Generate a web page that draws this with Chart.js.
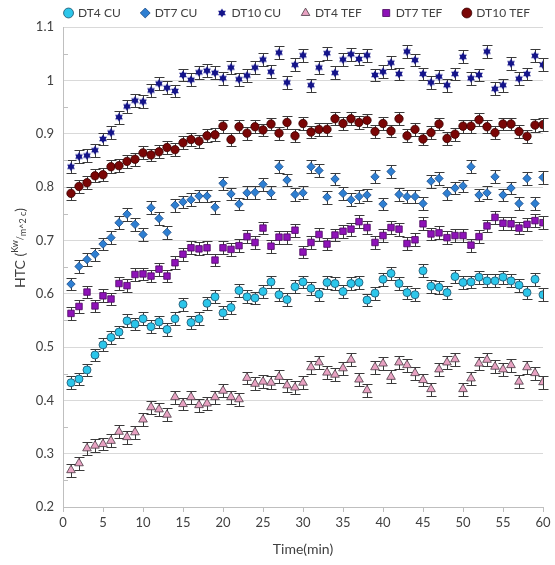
<!DOCTYPE html>
<html>
<head>
<meta charset="utf-8">
<script src="https://cdn.jsdelivr.net/npm/chart.js@4/dist/chart.umd.min.js"></script>
<style>
  html, body { margin: 0; padding: 0; background: #ffffff; }
  #wrap { position: relative; width: 555px; height: 565px; }
</style>
</head>
<body>
<div id="wrap"><canvas id="c" width="555" height="565"></canvas></div>
<script>
// ---- data ----
const TIME = [1,2,3,4,5,6,7,8,9,10,11,12,13,14,15,16,17,18,19,20,21,22,23,24,25,26,27,28,29,30,31,32,33,34,35,36,37,38,39,40,41,42,43,44,45,46,47,48,49,50,51,52,53,54,55,56,57,58,59,60];
const DT4_CU = [0.433,0.440,0.457,0.485,0.504,0.518,0.528,0.549,0.543,0.553,0.538,0.547,0.533,0.553,0.580,0.546,0.553,0.582,0.594,0.564,0.574,0.606,0.594,0.592,0.604,0.622,0.598,0.589,0.613,0.622,0.610,0.599,0.621,0.619,0.604,0.619,0.621,0.588,0.601,0.627,0.638,0.619,0.602,0.598,0.643,0.614,0.612,0.602,0.632,0.621,0.622,0.631,0.624,0.624,0.631,0.624,0.616,0.602,0.627,0.598];
const DT7_CU = [0.618,0.651,0.664,0.674,0.693,0.705,0.733,0.749,0.730,0.711,0.761,0.741,0.715,0.766,0.772,0.776,0.783,0.783,0.762,0.807,0.787,0.768,0.789,0.790,0.805,0.789,0.838,0.813,0.786,0.789,0.838,0.831,0.781,0.815,0.788,0.776,0.782,0.785,0.819,0.768,0.829,0.786,0.782,0.782,0.769,0.811,0.816,0.788,0.798,0.802,0.838,0.785,0.789,0.819,0.785,0.798,0.769,0.816,0.769,0.818];
const DT10_CU = [0.838,0.857,0.859,0.869,0.890,0.902,0.931,0.951,0.962,0.960,0.981,0.994,0.986,0.980,1.010,1.001,1.015,1.018,1.014,1.004,1.024,1.002,1.009,1.024,1.039,1.016,1.052,0.996,1.029,1.047,0.991,1.024,1.051,1.014,1.039,1.049,1.040,1.047,1.010,1.016,1.033,1.012,1.054,1.038,1.012,0.996,1.007,0.991,1.012,1.044,1.004,1.010,1.054,0.984,0.991,1.032,1.003,1.012,1.046,1.029];
const DT4_TEF = [0.269,0.282,0.310,0.315,0.318,0.324,0.341,0.331,0.340,0.364,0.387,0.383,0.373,0.406,0.393,0.406,0.391,0.394,0.406,0.418,0.406,0.402,0.442,0.431,0.435,0.433,0.444,0.428,0.424,0.433,0.462,0.471,0.452,0.448,0.460,0.476,0.439,0.419,0.462,0.469,0.444,0.471,0.466,0.451,0.438,0.421,0.458,0.471,0.477,0.421,0.441,0.469,0.476,0.463,0.458,0.466,0.435,0.462,0.451,0.434];
const DT7_TEF = [0.563,0.576,0.603,0.577,0.596,0.590,0.619,0.615,0.636,0.637,0.633,0.646,0.633,0.658,0.674,0.686,0.684,0.686,0.663,0.686,0.683,0.690,0.707,0.696,0.723,0.689,0.706,0.706,0.719,0.678,0.696,0.711,0.693,0.710,0.717,0.721,0.735,0.724,0.696,0.709,0.724,0.721,0.694,0.701,0.731,0.712,0.714,0.705,0.709,0.709,0.691,0.707,0.727,0.743,0.732,0.731,0.723,0.730,0.737,0.733];
const DT10_TEF = [0.788,0.801,0.808,0.821,0.823,0.838,0.840,0.848,0.852,0.864,0.860,0.866,0.874,0.870,0.883,0.889,0.886,0.896,0.898,0.914,0.889,0.913,0.901,0.913,0.907,0.918,0.901,0.921,0.896,0.919,0.903,0.908,0.908,0.928,0.919,0.928,0.921,0.925,0.904,0.919,0.905,0.928,0.896,0.908,0.890,0.902,0.918,0.891,0.899,0.914,0.914,0.926,0.913,0.902,0.918,0.918,0.904,0.895,0.916,0.917];
const SERIES_NAMES = ['DT4 CU','DT7 CU','DT10 CU','DT4 TEF','DT7 TEF','DT10 TEF'];
const X_TICKS = ['0','5','10','15','20','25','30','35','40','45','50','55','60'];
const Y_TICKS = ['0.2','0.3','0.4','0.5','0.6','0.7','0.8','0.9','1','1.1'];
const ERR = 0.012;   // half-height of error bars

// ---- styling ----
const FONT = 'Lato, "Open Sans", sans-serif';
const TXT = '#404040';
const LEGEND_PAD = 21;

function hexStar(size, fill, stroke) {
  const c = document.createElement('canvas');
  c.width = size; c.height = size;
  const g = c.getContext('2d');
  const cx = size / 2, cy = size / 2, r = size / 2 - 0.5;
  g.fillStyle = fill; g.strokeStyle = stroke; g.lineWidth = 0.8;
  for (let k = 0; k < 2; k++) {
    g.beginPath();
    for (let i = 0; i < 3; i++) {
      const a = -Math.PI / 2 + k * Math.PI / 3 + i * 2 * Math.PI / 3;
      const px = cx + r * Math.cos(a), py = cy + r * Math.sin(a);
      if (i === 0) g.moveTo(px, py); else g.lineTo(px, py);
    }
    g.closePath(); g.fill();
  }
  return c;
}
const STAR = hexStar(10, '#14148a', '#0a0a50');

function pts(arr) { return TIME.map((t, i) => ({ x: t, y: arr[i] })); }

const datasets = [
  { label: SERIES_NAMES[0], data: pts(DT4_CU),  pointStyle: 'circle',  pointRadius: 4,   backgroundColor: '#2cc6ea', borderColor: '#1d4f6a', pointBorderWidth: 0.8 },
  { label: SERIES_NAMES[1], data: pts(DT7_CU),  pointStyle: 'rectRot', pointRadius: 4.2, backgroundColor: '#2e7fd2', borderColor: '#1c4a85', pointBorderWidth: 0.8 },
  { label: SERIES_NAMES[2], data: pts(DT10_CU), pointStyle: STAR,      pointRadius: 5,   backgroundColor: '#14148a', borderColor: '#0a0a50', pointBorderWidth: 0.8 },
  { label: SERIES_NAMES[3], data: pts(DT4_TEF), pointStyle: 'triangle',pointRadius: 5,   backgroundColor: '#e8a2c2', borderColor: '#4a3a44', pointBorderWidth: 0.8 },
  { label: SERIES_NAMES[4], data: pts(DT7_TEF), pointStyle: 'rect',    pointRadius: 4.6, backgroundColor: '#8e12b8', borderColor: '#4a0860', pointBorderWidth: 0.8 },
  { label: SERIES_NAMES[5], data: pts(DT10_TEF),pointStyle: 'circle',  pointRadius: 4.2, backgroundColor: '#7a0606', borderColor: '#3a0202', pointBorderWidth: 0.8 }
];
datasets.forEach(d => { d.showLine = false; d.pointHoverRadius = d.pointRadius; });

// error bars drawn through the chart's own scales
const errorBars = {
  id: 'errorBars',
  beforeDatasetsDraw(chart) {
    const ctx = chart.ctx, ys = chart.scales.y;
    ctx.save();
    ctx.strokeStyle = '#3a3a3a';
    ctx.lineWidth = 1;
    chart.data.datasets.forEach((ds, di) => {
      const meta = chart.getDatasetMeta(di);
      meta.data.forEach((el, i) => {
        const v = ds.data[i].y;
        const x = Math.round(el.x) + 0.5;
        const yt = Math.round(ys.getPixelForValue(v + ERR)) + 0.5;
        const yb = Math.round(ys.getPixelForValue(v - ERR)) + 0.5;
        ctx.beginPath();
        ctx.moveTo(x, yt); ctx.lineTo(x, yb);
        ctx.moveTo(x - 5, yt); ctx.lineTo(x + 5, yt);
        ctx.moveTo(x - 5, yb); ctx.lineTo(x + 5, yb);
        ctx.stroke();
      });
    });
    ctx.restore();
  }
};

// minor y ticks + y title with super/subscript
const decorations = {
  id: 'decorations',
  afterDraw(chart) {
    const ctx = chart.ctx, ys = chart.scales.y, area = chart.chartArea;
    ctx.save();
    ctx.strokeStyle = '#bfbfbf';
    ctx.lineWidth = 1;
    for (let k = 0; k < 9; k++) {
      const v = 0.25 + k * 0.1;
      const y = Math.round(ys.getPixelForValue(v)) + 0.5;
      ctx.beginPath(); ctx.moveTo(area.left + 1, y); ctx.lineTo(area.left + 5, y); ctx.stroke();
    }
    ctx.restore();

    // y title
    ctx.save();
    ctx.translate(20, 248);
    ctx.rotate(-Math.PI / 2);
    ctx.fillStyle = TXT;
    ctx.textBaseline = 'middle';
    const big = '14px ' + FONT, small = '9px ' + FONT;
    const parts = [
      { t: 'HTC (', f: big, dy: 0 },
      { t: 'Kw', f: small, dy: -5 },
      { t: '/', f: small, dy: 0 },
      { t: 'm^2 c', f: small, dy: 3 },
      { t: ')', f: big, dy: 0 }
    ];
    let total = 0;
    parts.forEach(p => { ctx.font = p.f; p.w = ctx.measureText(p.t).width; total += p.w; });
    let x = -total / 2;
    parts.forEach(p => { ctx.font = p.f; ctx.fillText(p.t, x, p.dy); x += p.w; });
    ctx.restore();
  }
};

// fixes legend box height and moves its row to the reference position
const legendPlace = {
  id: 'legendPlace',
  beforeInit(chart) {
    const lg = chart.legend;
    if (lg) {
      const fit = lg.fit;
      lg.fit = function () { fit.call(this); this.height = 24; };
    }
  },
  afterLayout(chart) {
    const lg = chart.legend;
    if (lg) {
      lg.top = 13 - LEGEND_PAD - 6;
      lg.left += 26; lg.right += 26;
    }
  }
};

new Chart(document.getElementById('c'), {
  type: 'scatter',
  data: { datasets },
  options: {
    responsive: false,
    animation: false,
    devicePixelRatio: 1,
    layout: { padding: { left: 0, right: 12, top: 3, bottom: 0 } },
    plugins: {
      legend: {
        position: 'top',
        labels: {
          usePointStyle: true,
          boxWidth: 7, boxHeight: 7,
          padding: LEGEND_PAD,
          color: TXT,
          font: { family: FONT, size: 12 }
        }
      },
      tooltip: { enabled: false }
    },
    scales: {
      x: {
        type: 'linear', min: 0, max: 60,
        afterFit(s) { s.height = 58; },
        afterBuildTicks(s) { s.ticks = X_TICKS.map(t => ({ value: Number(t) })); },
        ticks: { callback: (v) => X_TICKS[X_TICKS.indexOf(String(v))], color: TXT, font: { family: FONT, size: 13 }, padding: 3, maxRotation: 0, autoSkip: false },
        grid: { drawOnChartArea: false, drawTicks: true, tickLength: 5, tickColor: '#bfbfbf' },
        border: { display: true, color: '#bfbfbf' },
        title: { display: true, text: 'Time(min)', color: TXT, font: { family: FONT, size: 14 }, padding: { top: 2, bottom: 7 } }
      },
      y: {
        type: 'linear', min: 0.2, max: 1.1,
        afterFit(s) { s.width = 63; },
        afterBuildTicks(s) { s.ticks = Y_TICKS.map(t => ({ value: Number(t) })); },
        ticks: { callback: (v) => Y_TICKS.find(t => Math.abs(Number(t) - v) < 1e-6), color: TXT, font: { family: FONT, size: 13 }, padding: 9, autoSkip: false },
        grid: { color: '#d9d9d9', drawTicks: false },
        border: { display: true, color: '#bfbfbf' }
      }
    }
  },
  plugins: [legendPlace, errorBars, decorations]
});
</script>
</body>
</html>
